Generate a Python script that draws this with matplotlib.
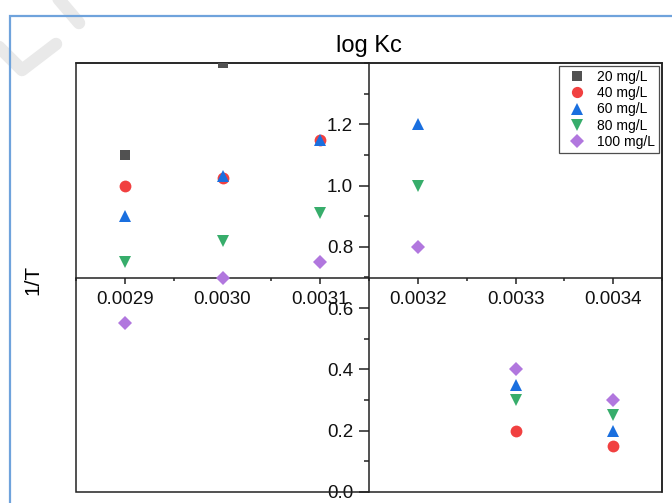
import matplotlib
matplotlib.use("Agg")
import matplotlib.pyplot as plt
from matplotlib.patches import Rectangle
from matplotlib.lines import Line2D
from matplotlib.ticker import MultipleLocator, FormatStrFormatter

plt.rcParams['font.family'] = ['Liberation Sans', 'DejaVu Sans']

labels = ['20 mg/L', '40 mg/L', '60 mg/L', '80 mg/L', '100 mg/L']
x20 = [0.0029, 0.0030]
y20 = [1.1, 1.4]
x40 = [0.0029, 0.0030, 0.0031, 0.0033, 0.0034]
y40 = [1.0, 1.025, 1.15, 0.2, 0.15]
x_all = [0.0029, 0.0030, 0.0031, 0.0032, 0.0033, 0.0034]
y60 = [0.9, 1.03, 1.15, 1.2, 0.35, 0.2]
y80 = [0.75, 0.82, 0.91, 1.0, 0.3, 0.25]
y100 = [0.55, 0.7, 0.75, 0.8, 0.4, 0.3]

colors = ['#515151', '#F14040', '#1A6FDF', '#37AD6B', '#B177DE']
markers = ['s', 'o', '^', 'v', 'D']
sizes = [7.5, 8.5, 9, 9, 7.5]

fig = plt.figure(figsize=(6.72, 5.03), dpi=100)

# faint watermark strokes (background decoration)
W, H = 672, 503
wm = dict(color='#e9e9e9', linewidth=9, solid_capstyle='round', zorder=0)
fig.lines.append(Line2D([56/W, 79/W], [1 - (-4)/H, 1 - 23/H], transform=fig.transFigure, **wm))
fig.lines.append(Line2D([-2/W, 22/W, 56/W], [1 - 46/H, 1 - 70/H, 1 - 44/H],
                        transform=fig.transFigure, **wm))

ax = fig.add_axes([76/W, 11/H, 586/W, 429/H])
ax.patch.set_alpha(0)

series = [(x20, y20), (x40, y40), (x_all, y60), (x_all, y80), (x_all, y100)]
for (xs, ys), lab, c, m, s in zip(series, labels, colors, markers, sizes):
    ax.plot(xs, ys, linestyle='none', marker=m, color=c, markersize=s,
            markeredgewidth=0, label=lab, zorder=3)

ax.set_xlim(0.00285, 0.00345)
ax.set_ylim(0.0, 1.4)

# crossing axes
ax.spines['left'].set_position(('data', 0.00315))
ax.spines['bottom'].set_position(('data', 0.7))
for sp in ax.spines.values():
    sp.set_linewidth(1.1)
    sp.set_color('#222222')

# outer box left and bottom edges
ax.add_patch(Rectangle((0, 0), 1, 1, transform=ax.transAxes, fill=False,
                       edgecolor='#222222', linewidth=1.1, clip_on=False, zorder=2.5))

ax.xaxis.set_major_locator(MultipleLocator(0.0001))
ax.xaxis.set_minor_locator(MultipleLocator(0.00005))
ax.xaxis.set_major_formatter(FormatStrFormatter('%.4f'))
ax.yaxis.set_minor_locator(MultipleLocator(0.1))
ax.yaxis.set_major_formatter(FormatStrFormatter('%.1f'))
ax.set_yticks([0.0, 0.2, 0.4, 0.6, 0.8, 1.0, 1.2])

ax.tick_params(axis='x', which='major', direction='out', length=4.5, width=1.1,
               labelsize=13.5, pad=5.5, colors='#222222', labelcolor='#111111')
ax.tick_params(axis='x', which='minor', direction='out', length=2.5, width=1.1, colors='#222222')
ax.tick_params(axis='y', which='major', direction='out', length=7, width=1.1,
               labelsize=13.5, pad=4.5, colors='#222222', labelcolor='#111111')
ax.tick_params(axis='y', which='minor', direction='out', length=3.6, width=1.1, colors='#222222')
ax.tick_params(top=False, right=False)

ax.set_title('log Kc', fontsize=17, pad=8)
fig.text(33/W, 1 - 280/H, '1/T', rotation=90, fontsize=15,
         ha='center', va='center')

leg = ax.legend(loc='upper right', fontsize=10, frameon=True, fancybox=False,
                edgecolor='#222222', borderaxespad=0.2, handletextpad=0.45,
                labelspacing=0.16, borderpad=0.3, handlelength=2.0, markerscale=0.95)
leg.get_frame().set_linewidth(0.9)

# outer blue border
fig.patches.append(Rectangle((10/W, -0.2), 1.2, 1 - 16/H + 0.2,
                             transform=fig.transFigure, fill=False,
                             edgecolor='#6FA3DC', linewidth=1.6))

fig.savefig('out.png', dpi=100)
